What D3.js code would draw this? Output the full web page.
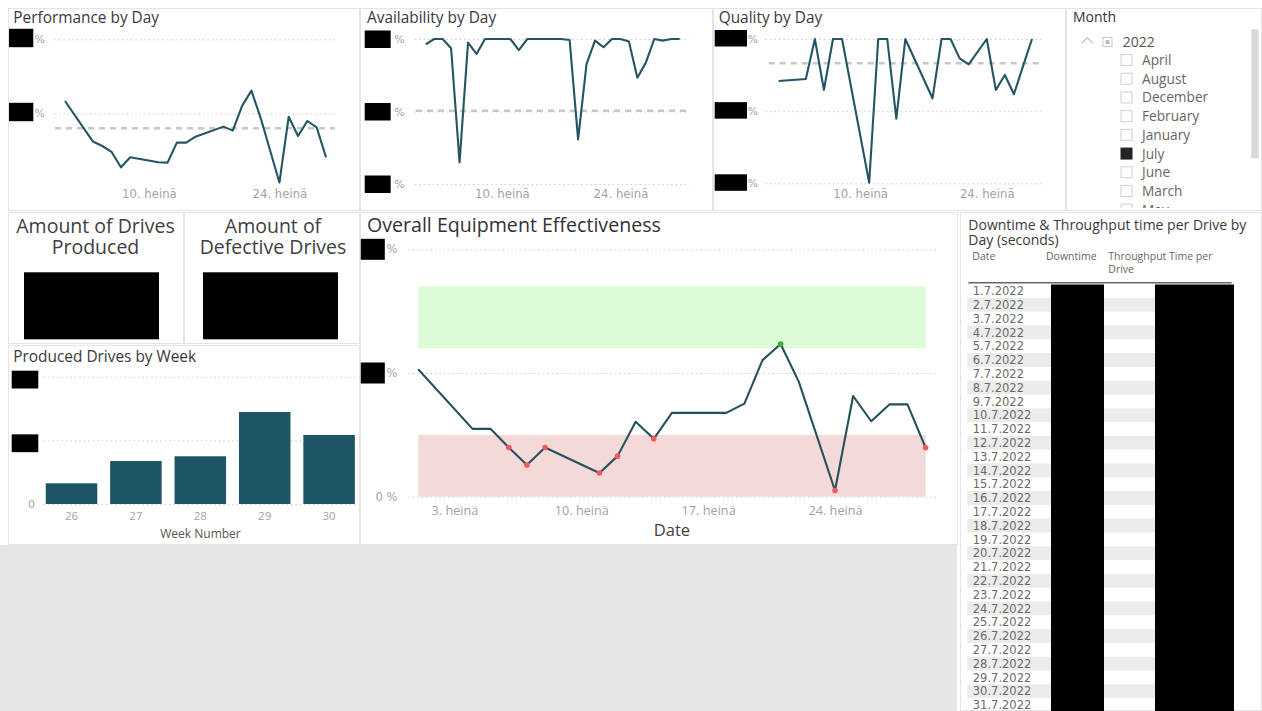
<!DOCTYPE html>
<html><head><meta charset="utf-8">
<script src="https://d3js.org/d3.v7.min.js"></script>
<style>
html,body{margin:0;padding:0;background:#fff;}
svg{display:block;font-family:"Open Sans",sans-serif;}
</style></head>
<body><svg id="dash" width="1262" height="711"></svg>
<script>
// ---------------- DATA ----------------
// production days of July 2022 (weekends mostly without data)
const julyDays = [1,4,5,6,7,8,11,12,13,14,15,18,19,20,21,22,24,25,26,27,28,29];
const performance = [58.3,30.9,27.9,23.9,13.5,20.3,16.9,16.7,30.2,30.2,34.2,41.0,38.3,55.0,65.3,46.6,3.2,47.7,34.7,44.8,40.5,20.3];
const quality = [70.9,72.3,100,64.7,100,100,0.5,100,100,44.8,100,58.9,100,100,86.6,82.4,100,64.7,75.1,61.7,81.0,100];
const oee = [51.5,27.4,27.4,19.9,12.8,19.9,9.6,16.4,30.3,23.4,33.9,33.9,37.6,55.2,61.7,46.5,2.5,40.7,30.5,37.3,37.3,19.8];
const availabilityDays = [1,2,3,4,5,6,7,8,9,10,11,12,13,14,15,16,17,18,19,20,21,22,23,24,25,26,27,28,29,30,31];
const availability = [96.3,100,100,93.6,14.9,97.5,89.7,100,100,100,100,92.4,100,100,100,100,100,99.3,30.8,82.8,98.9,94.3,100,100,98.2,73.3,83.7,100,98.9,100,100];
const performanceRef = 39.9;
const availabilityRef = 50.5;
const qualityRef = 83.2;
const percentTicks = [0, 50, 100];
const topDateTicks = [10, 24];
const oeeDateTicks = [3, 10, 17, 24];
const oeeGoodBand = [60, 85];
const oeeBadBand = [0, 25];
const weeks = [26, 27, 28, 29, 30];
const drivesPerWeek = [65, 135, 150, 289, 217];
const driveTicks = [0, 200, 400];
const months = ["April","August","December","February","January","July","June","March","May"];
const selectedMonth = "July";
const sliceYear = "2022";
const tableDates = ["1.7.2022","2.7.2022","3.7.2022","4.7.2022","5.7.2022","6.7.2022","7.7.2022","8.7.2022","9.7.2022","10.7.2022","11.7.2022","12.7.2022","13.7.2022","14.7.2022","15.7.2022","16.7.2022","17.7.2022","18.7.2022","19.7.2022","20.7.2022","21.7.2022","22.7.2022","23.7.2022","24.7.2022","25.7.2022","26.7.2022","27.7.2022","28.7.2022","29.7.2022","30.7.2022","31.7.2022"];

// ---------------- DRAWING ----------------
const svg = d3.select("#dash");
const jul = d => new Date(2022, 6, d);
const fmtDay = d => d.getDate() + ". heinä";
const LINE = "#245563", BAR = "#1e5566", TITLE = "#3a3a3a", TICK = "#a3a3a3", GRID = "#cccccc";

svg.append("rect").attr("x",0).attr("y",0).attr("width",1262).attr("height",711).attr("fill","#fff");
svg.append("rect").attr("x",0).attr("y",545).attr("width",957).attr("height",166).attr("fill","#e6e6e6");

const panels = [
  [8.5,8.5,351,202],[360.5,8.5,352,202],[713.5,8.5,352,202],[1066.5,8.5,195,202],
  [8.5,212.5,175,131],[184.5,212.5,175,131],[8.5,345.5,351,199],
  [360.5,212.5,597,332],[960.5,212.5,301,498]
];
panels.forEach(p => svg.append("rect").attr("x",p[0]).attr("y",p[1]).attr("width",p[2]).attr("height",p[3])
  .attr("fill","#fff").attr("stroke","#e4e4e4"));

function text(g, str, x, y, size, color, anchor, family) {
  return g.append("text").attr("x",x).attr("y",y).attr("font-size",size).attr("fill",color||TITLE)
    .attr("text-anchor",anchor||"start").style("font-family",family||"'Open Sans',sans-serif").text(str);
}
function multiText(g, lines, x, y, lh, size, color, anchor) {
  const t = g.append("text").attr("x",x).attr("y",y).attr("font-size",size).attr("fill",color||TITLE)
    .attr("text-anchor",anchor||"start").style("font-family","'Open Sans',sans-serif");
  lines.forEach((l,i) => t.append("tspan").attr("x",x).attr("y",y + i*lh).text(l));
  return t;
}

function yGrid(g, y, ticks, o) {
  const ax = d3.axisLeft(y).tickValues(ticks).tickSize(-(o.gx1 - o.gx0)).tickPadding(o.pad)
    .tickFormat(d => o.redacted.includes(d) ? o.unit : (o.unit ? d + " " + o.unit : String(d)));
  const a = g.append("g").attr("transform", `translate(${o.gx0},0)`).call(ax);
  a.select(".domain").remove();
  a.selectAll(".tick line").attr("stroke", GRID).attr("stroke-dasharray", "1.5,3");
  a.selectAll(".tick text").attr("fill", TICK).style("font-family","'DejaVu Sans',sans-serif").style("font-size", o.fs + "px");
  a.selectAll(".tick").filter(d => o.redacted.includes(d)).insert("rect", "text")
    .attr("x", o.box[0] - o.gx0).attr("width", o.box[1] - o.box[0])
    .attr("y", o.box[2]).attr("height", o.box[3]).attr("fill", "#000");
  return a;
}

function dayChart(c) {
  const g = svg.append("g");
  text(g, c.title, c.tx, 23.3, 15.4, TITLE);
  const x = d3.scaleTime().domain([jul(c.dom[0]), jul(c.dom[1])]).range(c.xr);
  const y = d3.scaleLinear().domain([0, 100]).range(c.yr);
  yGrid(g, y, c.ticks, {gx0:c.gx[0], gx1:c.gx[1], pad:c.pad, unit:"%", redacted:c.redacted, fs:11, box:c.box});
  g.append("line").attr("x1",c.refX[0]).attr("x2",c.refX[1]).attr("y1",y(c.ref)).attr("y2",y(c.ref))
    .attr("stroke","#c8c8c8").attr("stroke-width",2.5).attr("stroke-dasharray","6,5");
  const xa = d3.axisBottom(x).tickValues(topDateTicks.map(jul)).tickSize(0).tickPadding(0).tickFormat(fmtDay);
  const ga = g.append("g").attr("transform", `translate(0,189.7)`).call(xa);
  ga.select(".domain").remove();
  ga.selectAll("text").attr("fill", TICK).style("font-family","'DejaVu Sans',sans-serif").style("font-size","11.7px");
  const line = d3.line().x((d,i) => x(jul(c.days[i]))).y(d => y(d));
  g.append("path").datum(c.values).attr("d", line).attr("fill","none").attr("stroke",LINE)
    .attr("stroke-width",2.1).attr("stroke-linejoin","round");
}

dayChart({title:"Performance by Day", tx:13.3, dom:[1,29], xr:[65,326], yr:[187.3,39.3],
  gx:[54.3,336.7], pad:9.3, ticks:[50,100], redacted:[50,100], box:[9,33.3,-11,18.4],
  ref:performanceRef, refX:[55,335], days:julyDays, values:performance});
dayChart({title:"Availability by Day", tx:367, dom:[1,31], xr:[425.7,679.7], yr:[184,39],
  gx:[414.7,689.7], pad:10, ticks:percentTicks, redacted:percentTicks, box:[364.7,390.7,-9,17.5],
  ref:availabilityRef, refX:[416,688], days:availabilityDays, values:availability});
dayChart({title:"Quality by Day", tx:718.7, dom:[1,29], xr:[778.7,1032], yr:[183.3,39],
  gx:[765.3,1043.7], pad:7.3, ticks:percentTicks, redacted:percentTicks, box:[714.7,747,-9.5,16.5],
  ref:qualityRef, refX:[768.7,1040], days:julyDays, values:quality});

// ---- Month slicer ----
const sl = svg.append("g");
text(sl, "Month", 1073, 22, 14, "#333");
sl.append("path").attr("d","M1082,43 L1087.3,37.6 L1092.7,43").attr("fill","none").attr("stroke","#9a9a9a");
sl.append("rect").attr("x",1103).attr("y",37.5).attr("width",9).attr("height",9).attr("fill","#fff").attr("stroke","#c8c8c8");
sl.append("rect").attr("x",1105.5).attr("y",40).attr("width",4).attr("height",4).attr("fill","#bdbdbd");
text(sl, sliceYear, 1122.7, 47, 14, "#555");
svg.append("clipPath").attr("id","slclip").append("rect").attr("x",1067).attr("y",49).attr("width",180).attr("height",159);
const rowY = d3.scaleBand().domain(months).range([50.7, 50.7 + 18.7 * months.length]);
const items = sl.append("g").attr("clip-path","url(#slclip)");
months.forEach(m => {
  const cy = rowY(m) + rowY.bandwidth() / 2;
  const sel = m === selectedMonth;
  items.append("rect").attr("x",1121).attr("y",cy - 5.5).attr("width",11).attr("height",11)
    .attr("fill", sel ? "#252423" : "#fff").attr("stroke", sel ? "#252423" : "#cfcfcf");
  text(items, m, 1142, cy + 5, 13.7, "#666");
});
sl.append("rect").attr("x",1251.3).attr("y",29.3).attr("width",7.3).attr("height",129).attr("fill","#d9d9d9");

// ---- Cards ----
const cards = svg.append("g");
multiText(cards, ["Amount of Drives", "Produced"], 95.5, 232.7, 21.3, 19.5, "#404040", "middle");
multiText(cards, ["Amount of", "Defective Drives"], 273, 232.7, 21.3, 19.5, "#404040", "middle");
cards.append("rect").attr("x",24).attr("y",272.3).attr("width",135).attr("height",67).attr("fill","#000");
cards.append("rect").attr("x",203).attr("y",272.3).attr("width",135).attr("height",67).attr("fill","#000");

// ---- Produced Drives by Week ----
const gb = svg.append("g");
text(gb, "Produced Drives by Week", 13.3, 361.7, 15.4, TITLE);
const xb = d3.scaleBand().domain(weeks).range([39.3, 361.3]).paddingInner(0.2).paddingOuter(0.1);
const yb = d3.scaleLinear().domain([0, 400]).range([504, 376.7]);
yGrid(gb, yb, driveTicks, {gx0:43.3, gx1:358.3, pad:8.3, unit:"", redacted:[200,400], fs:11, box:[11.7,38.3,-6.5,17.8]});
gb.selectAll("rect.bar").data(drivesPerWeek).enter().append("rect").attr("class","bar")
  .attr("x",(d,i) => xb(weeks[i])).attr("width", xb.bandwidth())
  .attr("y", d => yb(d)).attr("height", d => yb(0) - yb(d)).attr("fill", BAR);
const xba = gb.append("g").attr("transform","translate(0,512.3)").call(d3.axisBottom(xb).tickSize(0).tickPadding(0));
xba.select(".domain").remove();
xba.selectAll("text").attr("fill", TICK).style("font-family","'Open Sans',sans-serif").style("font-size","11.5px");
text(gb, "Week Number", 200.5, 537.5, 12, "#555", "middle");

// ---- OEE ----
const go = svg.append("g");
text(go, "Overall Equipment Effectiveness", 367, 232, 19.6, "#333");
const xo = d3.scaleTime().domain([jul(1), jul(29)]).range([418.2, 925.6]);
const yo = d3.scaleLinear().domain([0, 100]).range([496.7, 249.3]);
yGrid(go, yo, percentTicks, {gx0:407.8, gx1:938, pad:10.3, unit:"%", redacted:[50,100], fs:11.5, box:[360.8,384.8,-11,21]});
const bx0 = xo(jul(julyDays[0])), bx1 = xo(jul(julyDays[julyDays.length - 1]));
go.append("rect").attr("x",bx0).attr("width",bx1 - bx0).attr("y",yo(oeeGoodBand[1])).attr("height",yo(oeeGoodBand[0]) - yo(oeeGoodBand[1])).attr("fill","#dcfbd6");
go.append("rect").attr("x",bx0).attr("width",bx1 - bx0).attr("y",yo(oeeBadBand[1])).attr("height",yo(oeeBadBand[0]) - yo(oeeBadBand[1])).attr("fill","#f4d9d9");
const oLine = d3.line().x((d,i) => xo(jul(julyDays[i]))).y(d => yo(d));
go.append("path").datum(oee).attr("d", oLine).attr("fill","none").attr("stroke","#26505b").attr("stroke-width",2.1).attr("stroke-linejoin","round");
oee.forEach((v,i) => {
  if (v < oeeBadBand[1] || v > oeeGoodBand[0]) {
    go.append("circle").attr("cx", xo(jul(julyDays[i]))).attr("cy", yo(v)).attr("r", 2.8)
      .attr("fill", v > oeeGoodBand[0] ? "#3fae3a" : "#f25b5b");
  }
});
const xoa = go.append("g").attr("transform","translate(0,506)")
  .call(d3.axisBottom(xo).tickValues(oeeDateTicks.map(jul)).tickSize(0).tickPadding(0).tickFormat(fmtDay));
xoa.select(".domain").remove();
xoa.selectAll("text").attr("fill", TICK).style("font-family","'Open Sans',sans-serif").style("font-size","12.7px");
text(go, "Date", 672, 536, 16.5, "#404040", "middle");

// ---- Table ----
const gt = svg.append("g");
multiText(gt, ["Downtime & Throughput time per Drive by", "Day (seconds)"], 968.3, 229.5, 15, 14, TITLE);
text(gt, "Date", 972.3, 260, 10.5, "#666");
text(gt, "Downtime", 1046, 260, 10.5, "#666");
multiText(gt, ["Throughput Time per", "Drive"], 1108.3, 260, 13.3, 10.5, "#666");
const rowsY = d3.scaleBand().domain(tableDates).range([284.1, 284.1 + 13.8 * tableDates.length]);
tableDates.forEach((d,i) => {
  if (i % 2 === 1) gt.append("rect").attr("x",967.3).attr("width",266.7).attr("y",rowsY(d)).attr("height",rowsY.bandwidth()).attr("fill","#ececec");
});
tableDates.forEach(d => {
  text(gt, d, 972.8, rowsY(d) + rowsY.bandwidth()/2 + 4.2, 11.5, "#6a6a6a", "start", "'DejaVu Sans',sans-serif");
});
gt.append("line").attr("x1",968.3).attr("x2",1231.7).attr("y1",282.7).attr("y2",282.7).attr("stroke","#5b6a6f").attr("stroke-width",1.5);
gt.append("rect").attr("x",1051).attr("y",284.5).attr("width",53).attr("height",427).attr("fill","#000");
gt.append("rect").attr("x",1155).attr("y",284.5).attr("width",79).attr("height",427).attr("fill","#000");
</script>
</body></html>
